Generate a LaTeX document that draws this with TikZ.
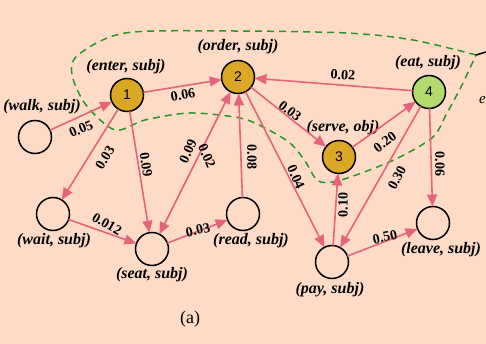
\documentclass[tikz,border=0pt]{standalone}
\usepackage{fontspec}
\setmainfont{Liberation Serif}
\newfontfamily\numfont{Liberation Sans}
\usetikzlibrary{arrows.meta}
\definecolor{bgpeach}{RGB}{254,219,199}
\definecolor{edgepink}{RGB}{230,100,122}
\definecolor{gold}{RGB}{218,168,36}
\definecolor{leaf}{RGB}{178,218,108}
\definecolor{groupgreen}{RGB}{40,150,40}
\tikzset{
  state/.style={circle, draw=black, line width=1.5pt, minimum size=33pt, inner sep=0pt, outer sep=0pt, font=\numfont\fontsize{14}{14}\selectfont},
  core/.style={state, fill=gold},
  hub/.style={state, fill=leaf},
  tag/.style={font=\bfseries\itshape\fontsize{16}{16}\selectfont, inner sep=0pt},
  wt/.style={font=\bfseries\fontsize{14}{14}\selectfont, inner sep=0pt},
  link/.style={draw=edgepink, line width=1.6pt, -{Triangle[length=12pt,width=10pt]}},
  group/.style={draw=groupgreen, line width=1.5pt, dash pattern=on 7pt off 5pt}
}
\begin{document}
\begin{tikzpicture}[x=1pt,y=-1pt]
\fill[bgpeach] (0,0) rectangle (486,344);
\useasboundingbox (0,0) rectangle (486,344);
\clip (0,0) rectangle (486,344);

% grouping outline
\draw[group] plot[smooth, tension=0.5] coordinates {(476,55) (413,40) (347,33) (230,31) (125,33) (78,55) (72,75) (86,105) (115,130) (145,120) (190,113) (240,118) (265,128) (290,143) (305,161) (318,181) (337,181) (367,171) (400,157) (433,137) (447,113) (462,85) (476,55)};
\draw[black, line width=1.5pt] (476,55) -- (486,52);
\node[font=\itshape\fontsize{15}{15}\selectfont, anchor=west, inner sep=0pt] (cut) at (479,100) {e};

% states
\node[state] (walk) at (35,137) {};
\node[core] (enter) at (127,95) {1};
\node[core] (order) at (238,77) {2};
\node[core] (serve) at (339,157) {3};
\node[hub] (eat) at (429,92) {4};
\node[state] (wait) at (53,214) {};
\node[state] (seat) at (152,249) {};
\node[state] (read) at (243,214) {};
\node[state] (pay) at (332,262) {};
\node[state] (leave) at (433,223) {};

% state tags
\node[tag] (twalk) at (42,107) {(walk, subj)};
\node[tag] (tenter) at (126,67) {(enter, subj)};
\node[tag] (torder) at (238,47) {(order, subj)};
\node[tag] (tserve) at (343,128) {(serve, obj)};
\node[tag] (teat) at (428,63) {(eat, subj)};
\node[tag] (twait) at (54,241) {(wait, subj)};
\node[tag] (tseat) at (152,275) {(seat, subj)};
\node[tag] (tread) at (251,241) {(read, subj)};
\node[tag] (tpay) at (330,290) {(pay, subj)};
\node[tag] (tleave) at (441,250) {(leave, subj)};

% transitions
\draw[link] (walk) -- (enter);
\draw[link] (enter) -- (order);
\draw[link] (enter) -- (wait);
\draw[link] (enter) -- (seat);
\draw[link, {Triangle[length=12pt,width=10pt]}-{Triangle[length=12pt,width=10pt]}] (seat) -- (order);
\draw[link] (read) -- (order);
\draw[link] (order) -- (serve);
\draw[link] (order) -- (pay);
\draw[link] (eat) -- (order);
\draw[link] (serve) -- (eat);
\draw[link] (eat) -- (pay);
\draw[link] (eat) -- (leave);
\draw[link] (pay) -- (serve);
\draw[link] (pay) -- (leave);
\draw[link] (wait) -- (seat);
\draw[link] (seat) -- (read);

% weights
\node[wt, rotate=23] (w1) at (81,129) {0.05};
\node[wt, rotate=10] (w2) at (183,95) {0.06};
\node[wt, rotate=58] (w3) at (105,158) {0.03};
\node[wt, rotate=-81] (w4) at (146,165) {0.09};
\node[wt, rotate=66] (w5) at (188,151) {0.09};
\node[wt, rotate=-66] (w6) at (207,156) {0.02};
\node[wt, rotate=-90] (w7) at (252,157) {0.08};
\node[wt, rotate=-38] (w8) at (290,111) {0.03};
\node[wt, rotate=-66] (w9) at (296,177) {0.04};
\node[wt, rotate=-4] (w10) at (343,75) {0.02};
\node[wt, rotate=37] (w11) at (385,142) {0.20};
\node[wt, rotate=62] (w12) at (397,178) {0.30};
\node[wt, rotate=-90] (w13) at (440,164) {0.06};
\node[wt, rotate=90] (w14) at (343,205) {0.10};
\node[wt, rotate=12] (w15) at (385,237) {0.50};
\node[wt, rotate=-30] (w16) at (107,224) {0.012};
\node[wt, rotate=12] (w17) at (198,230) {0.03};

\node[font=\fontsize{18}{18}\selectfont, inner sep=0pt] (caption) at (190,319) {(a)};
\end{tikzpicture}
\end{document}
